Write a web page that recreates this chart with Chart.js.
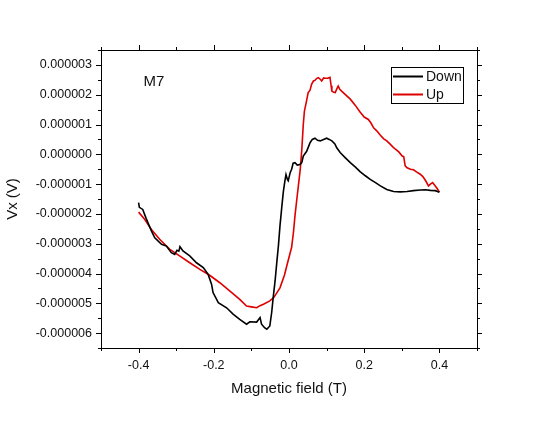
<!DOCTYPE html>
<html>
<head>
<meta charset="utf-8">
<script src="https://cdn.jsdelivr.net/npm/chart.js@4.4.1/dist/chart.umd.min.js"></script>
<style>
  html, body { margin: 0; padding: 0; background: #fff; }
  #wrap { width: 558px; height: 422px; }
</style>
</head>
<body>
<div id="wrap"><canvas id="vx-chart" width="558" height="422"></canvas></div>
<script>
// Magnetic field (T) and Vx in microvolts
const downField = [-0.400, -0.398, -0.389, -0.380, -0.366, -0.357, -0.339, -0.326, -0.313, -0.304,
    -0.298, -0.293, -0.290, -0.282, -0.264, -0.246, -0.228, -0.215, -0.206, -0.202,
    -0.188, -0.166, -0.148, -0.131, -0.113, -0.104, -0.086, -0.077, -0.073, -0.065,
    -0.059, -0.051, -0.046, -0.042, -0.037, -0.033, -0.028, -0.024, -0.019, -0.015,
    -0.011, -0.008, -0.004, -0.002, 0.003, 0.007, 0.011, 0.016, 0.022, 0.029,
    0.034, 0.038, 0.047, 0.056, 0.062, 0.069, 0.076, 0.083, 0.092, 0.100,
    0.107, 0.114, 0.122, 0.127, 0.136, 0.150, 0.163, 0.176, 0.189, 0.203,
    0.216, 0.230, 0.243, 0.260, 0.278, 0.296, 0.314, 0.331, 0.349, 0.363,
    0.376, 0.389, 0.400];
const downVx = [-1.62, -1.78, -1.85, -2.15, -2.57, -2.80, -3.02, -3.08, -3.30, -3.36,
    -3.22, -3.25, -3.10, -3.24, -3.41, -3.64, -3.80, -4.03, -4.36, -4.64,
    -4.98, -5.15, -5.37, -5.54, -5.70, -5.62, -5.63, -5.48, -5.70, -5.82,
    -5.87, -5.76, -5.30, -4.80, -4.25, -3.70, -3.05, -2.40, -1.75, -1.25,
    -0.90, -0.68, -0.85, -0.89, -0.62, -0.50, -0.30, -0.28, -0.36, -0.34,
    -0.28, -0.06, 0.10, 0.39, 0.50, 0.54, 0.47, 0.45, 0.50, 0.54,
    0.50, 0.45, 0.35, 0.22, 0.06, -0.12, -0.28, -0.42, -0.58, -0.72,
    -0.84, -0.95, -1.06, -1.18, -1.25, -1.26, -1.25, -1.22, -1.20, -1.19,
    -1.21, -1.22, -1.27];

const upField = [-0.400, -0.384, -0.366, -0.344, -0.317, -0.291, -0.264, -0.237, -0.211, -0.184,
    -0.157, -0.131, -0.113, -0.100, -0.086, -0.077, -0.068, -0.051, -0.040, -0.024,
    -0.012, -0.006, 0.007, 0.012, 0.016, 0.020, 0.025, 0.030, 0.034, 0.038,
    0.041, 0.046, 0.051, 0.056, 0.060, 0.065, 0.069, 0.074, 0.078, 0.083,
    0.087, 0.092, 0.096, 0.103, 0.109, 0.112, 0.114, 0.119, 0.123, 0.128,
    0.131, 0.135, 0.140, 0.150, 0.163, 0.176, 0.189, 0.200, 0.211, 0.218,
    0.225, 0.234, 0.243, 0.252, 0.260, 0.269, 0.276, 0.283, 0.292, 0.301,
    0.305, 0.309, 0.314, 0.323, 0.331, 0.340, 0.349, 0.356, 0.363, 0.371,
    0.376, 0.382, 0.388, 0.394, 0.400];
const upVx = [-1.94, -2.18, -2.52, -2.85, -3.19, -3.41, -3.64, -3.86, -4.06, -4.31,
    -4.59, -4.87, -5.09, -5.12, -5.15, -5.08, -5.03, -4.92, -4.80, -4.48,
    -4.05, -3.75, -3.12, -2.60, -2.05, -1.60, -1.05, -0.50, 0.15, 1.00,
    1.45, 1.75, 2.07, 2.15, 2.35, 2.46, 2.48, 2.55, 2.57, 2.52,
    2.46, 2.56, 2.55, 2.55, 2.58, 2.30, 2.12, 2.08, 2.07, 2.22,
    2.29, 2.18, 2.12, 2.00, 1.85, 1.65, 1.42, 1.25, 1.17, 1.05,
    0.89, 0.78, 0.64, 0.52, 0.45, 0.34, 0.25, 0.17, 0.08, -0.06,
    -0.08, -0.39, -0.45, -0.50, -0.52, -0.60, -0.67, -0.75, -0.88, -1.06,
    -1.00, -0.95, -1.05, -1.15, -1.27];

const xMajorTicks = [-0.4, -0.2, 0.0, 0.2, 0.4];
const xMinorTicks = [-0.5, -0.3, -0.1, 0.1, 0.3, 0.5];
const yMajorTicks = [-6, -5, -4, -3, -2, -1, 0, 1, 2, 3];
const yMinorTicks = [-6.5, -5.5, -4.5, -3.5, -2.5, -1.5, -0.5, 0.5, 1.5, 2.5, 3.5];

const sampleLabel = 'M7';
const sampleLabelAt = { x: -0.387, y: 2.28 };

const FONT = "'Liberation Sans', Arial, sans-serif";
const RED = 'rgb(222, 0, 0)';

const toPoints = (xs, ys) => xs.map((x, i) => ({ x: x, y: ys[i] }));

// frame, ticks on all four sides, sample label and legend box
const framePlugin = {
    id: 'originFrame',
    afterDatasetsDraw(chart) {
        const { ctx, chartArea: a, scales } = chart;
        const xs = scales.x, ys = scales.y;
        ctx.save();
        ctx.strokeStyle = '#000';
        ctx.lineWidth = 1;
        ctx.strokeRect(Math.round(a.left) + 0.5, Math.round(a.top) + 0.5,
            Math.round(a.right - a.left), Math.round(a.bottom - a.top));

        ctx.beginPath();
        const xTick = (v, len) => {
            const px = Math.round(xs.getPixelForValue(v)) + 0.5;
            ctx.moveTo(px, a.bottom); ctx.lineTo(px, a.bottom + len);
            ctx.moveTo(px, a.top); ctx.lineTo(px, a.top - len);
        };
        const yTick = (v, len) => {
            const py = Math.round(ys.getPixelForValue(v)) + 0.5;
            ctx.moveTo(a.left, py); ctx.lineTo(a.left - len, py);
            ctx.moveTo(a.right, py); ctx.lineTo(a.right + len, py);
        };
        xMajorTicks.forEach(v => xTick(v, 5));
        xMinorTicks.forEach(v => xTick(v, 3));
        yMajorTicks.forEach(v => yTick(v, 5));
        yMinorTicks.forEach(v => yTick(v, 3));
        ctx.stroke();

        // sample name
        ctx.fillStyle = '#111';
        ctx.font = '15px ' + FONT;
        ctx.textAlign = 'left';
        ctx.textBaseline = 'alphabetic';
        ctx.fillText(sampleLabel, xs.getPixelForValue(sampleLabelAt.x), ys.getPixelForValue(sampleLabelAt.y));

        // legend
        const lx = a.right - 86, ly = a.top + 17, lw = 72, lh = 36;
        ctx.strokeRect(Math.round(lx) + 0.5, Math.round(ly) + 0.5, lw, lh);
        ctx.font = '14px ' + FONT;
        ctx.textBaseline = 'middle';
        chart.data.datasets.forEach((ds, i) => {
            const yy = ly + 9.5 + i * 18;
            ctx.strokeStyle = ds.borderColor;
            ctx.lineWidth = 2;
            ctx.beginPath();
            ctx.moveTo(lx + 2, yy); ctx.lineTo(lx + 32, yy);
            ctx.stroke();
            ctx.fillStyle = '#111';
            ctx.fillText(ds.label, lx + 35, yy + 1);
        });
        ctx.restore();
    }
};

const vxChart = new Chart(document.getElementById('vx-chart'), {
    type: 'scatter',
    data: {
        datasets: [
            {
                label: 'Down',
                data: toPoints(downField, downVx),
                borderColor: '#000',
                borderWidth: 1.6,
                showLine: true,
                pointRadius: 0,
                tension: 0
            },
            {
                label: 'Up',
                data: toPoints(upField, upVx),
                borderColor: RED,
                borderWidth: 1.6,
                showLine: true,
                pointRadius: 0,
                tension: 0
            }
        ]
    },
    options: {
        responsive: false,
        animation: false,
        layout: { padding: { top: 50, right: 81, left: 0, bottom: 0 } },
        plugins: {
            legend: { display: false },
            tooltip: { enabled: false }
        },
        scales: {
            x: {
                type: 'linear',
                min: -0.5,
                max: 0.5,
                afterBuildTicks: (scale) => { scale.ticks = xMajorTicks.map(v => ({ value: v })); },
                afterFit: (scale) => { scale.height = 74; },
                grid: { display: false, drawTicks: false },
                border: { display: false },
                ticks: {
                    padding: 10,
                    color: '#111',
                    font: { family: FONT, size: 12.5 },
                    callback: (v) => v.toFixed(1)
                },
                title: {
                    display: true,
                    text: 'Magnetic field (T)',
                    color: '#111',
                    font: { family: FONT, size: 15 },
                    padding: { top: 0, bottom: 24 }
                }
            },
            y: {
                type: 'linear',
                min: -6.5,
                max: 3.5,
                afterBuildTicks: (scale) => { scale.ticks = yMajorTicks.map(v => ({ value: v })); },
                afterFit: (scale) => { scale.width = 101; },
                grid: { display: false, drawTicks: false },
                border: { display: false },
                ticks: {
                    padding: 9,
                    color: '#111',
                    font: { family: FONT, size: 12.5 },
                    callback: (v) => (v / 1e6).toFixed(6)
                },
                title: {
                    display: true,
                    text: 'Vx (V)',
                    color: '#111',
                    font: { family: FONT, size: 15 },
                    padding: { top: 3.5, bottom: 0 }
                }
            }
        }
    },
    plugins: [framePlugin]
});
</script>
</body>
</html>
